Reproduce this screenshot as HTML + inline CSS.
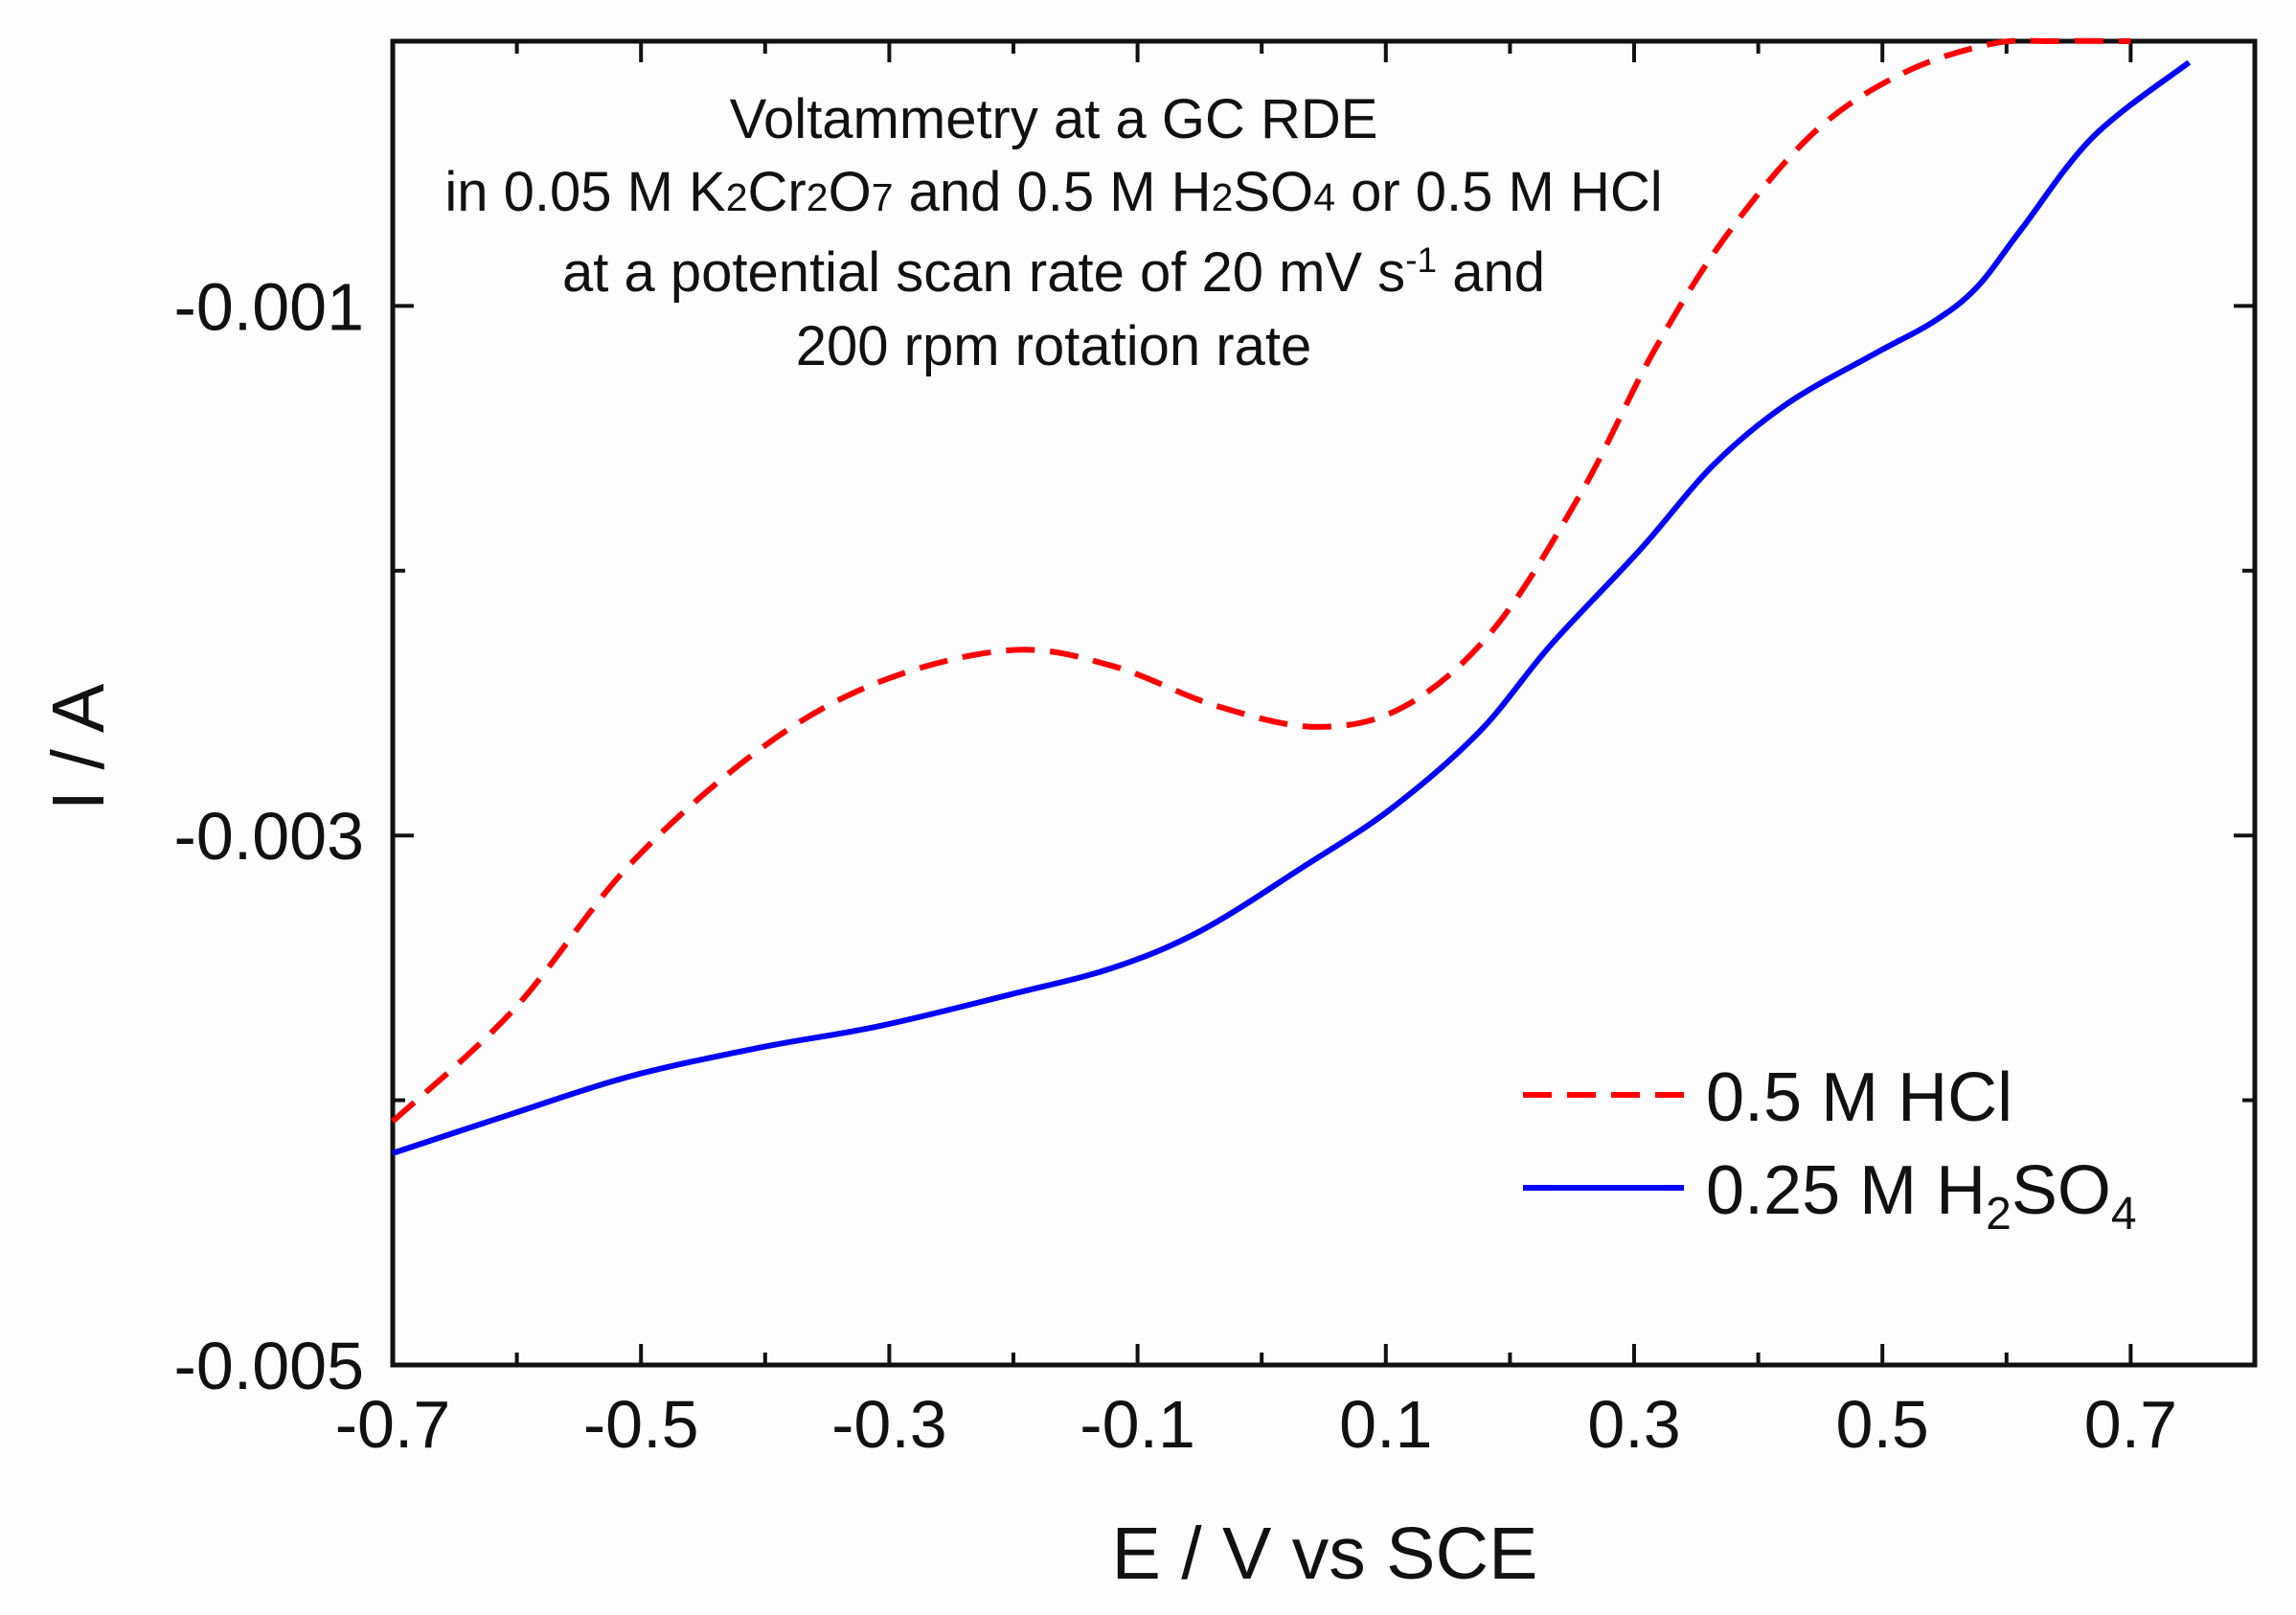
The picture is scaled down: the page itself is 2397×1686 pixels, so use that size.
<!DOCTYPE html>
<html><head><meta charset="utf-8"><style>
html,body{margin:0;padding:0;background:#fdfdfd;}
svg{display:block;font-family:"Liberation Sans",Arial,sans-serif;}
</style></head><body>
<svg id="chart" width="2397" height="1686" viewBox="0 0 2397 1686" xmlns="http://www.w3.org/2000/svg">
<rect x="0" y="0" width="2397" height="1686" fill="#fdfdfd"/>
<g id="axes"></g>
<g id="series"></g>
<g font-size="58" fill="#111" text-anchor="middle">
<text x="1100" y="144">Voltammetry at a GC RDE</text>
<text x="1100" y="220">in 0.05 M K<tspan font-size="41">2</tspan>Cr<tspan font-size="41">2</tspan>O<tspan font-size="41">7</tspan>  and 0.5 M H<tspan font-size="41">2</tspan>SO<tspan font-size="41">4</tspan>  or 0.5 M HCl</text>
<text x="1100" y="304">at a potential scan rate of 20 mV s<tspan font-size="37" dy="-20">-1</tspan><tspan dy="20"> and</tspan></text>
<text x="1100" y="381">200 rpm rotation rate</text>
</g>
<text x="1383" y="1648" font-size="77" text-anchor="middle" fill="#111">E / V vs SCE</text>
<text transform="translate(108,780) rotate(-90)" font-size="77" text-anchor="middle" fill="#111">I / A</text>
<g>
<line x1="1590" y1="1143" x2="1758" y2="1143" stroke="#ff0000" stroke-width="6" stroke-dasharray="30,16"/>
<text x="1781" y="1170" font-size="72" fill="#111">0.5 M HCl</text>
<line x1="1590" y1="1240" x2="1758" y2="1240" stroke="#0000ff" stroke-width="6"/>
<text x="1781" y="1267" font-size="72" fill="#111">0.25 M H<tspan font-size="48" dy="16">2</tspan><tspan dy="-16">SO</tspan><tspan font-size="48" dy="16">4</tspan></text>
</g>
</svg>
<script>
const xTicks = [-0.7,-0.5,-0.3,-0.1,0.1,0.3,0.5,0.7];
const xTickLabels = ["-0.7","-0.5","-0.3","-0.1","0.1","0.3","0.5","0.7"];
const xMinor = [-0.6,-0.4,-0.2,0,0.2,0.4,0.6,0.8];
const yTicks = [-0.001,-0.003,-0.005];
const yTickLabels = ["-0.001","-0.003","-0.005"];
const yMinor = [0,-0.002,-0.004];
const hclE = [-0.7,-0.603,-0.509,-0.403,-0.308,-0.202,-0.12,-0.037,0.045,0.116,0.187,0.258,0.316,0.375,0.446,0.517,0.588,0.64,0.7];
const hclI = [-0.00408,-0.00366,-0.00311,-0.00267,-0.00242,-0.0023,-0.00236,-0.00251,-0.00259,-0.00251,-0.00222,-0.0017,-0.00117,-0.00073,-0.00034,-0.00012,-0.00001,0,0];
const h2so4E = [-0.7,-0.603,-0.509,-0.403,-0.308,-0.202,-0.12,-0.049,0.033,0.104,0.175,0.233,0.305,0.364,0.423,0.494,0.541,0.576,0.612,0.67,0.747];
const h2so4I = [-0.0042,-0.00405,-0.00391,-0.0038,-0.00372,-0.0036,-0.0035,-0.00336,-0.00312,-0.0029,-0.00261,-0.00228,-0.00192,-0.0016,-0.00137,-0.00118,-0.00106,-0.00093,-0.00071,-0.00036,-0.00008];

const L=410,R=2354,T=43,B=1425;
const xMin=-0.7,xMax=0.8,yMin=-0.005,yMax=0;
function sx(v){return L+(v-xMin)/(xMax-xMin)*(R-L);}
function sy(v){return B-(v-yMin)/(yMax-yMin)*(B-T);}
const NS="http://www.w3.org/2000/svg";
const axes=document.getElementById('axes');
const series=document.getElementById('series');
function mk(tag,attrs,parent){const e=document.createElementNS(NS,tag);for(const k in attrs)e.setAttribute(k,attrs[k]);parent.appendChild(e);return e;}

const frame=mk('rect',{x:L,y:T,width:R-L,height:B-T,fill:'none',stroke:'#111','stroke-width':5},axes);



xTicks.forEach((v,i)=>{
  const x=sx(v);
  const t1=mk('line',{x1:x,y1:B,x2:x,y2:B-22,stroke:'#111','stroke-width':4},axes);
  
  
  const t2=mk('line',{x1:x,y1:T,x2:x,y2:T+22,stroke:'#111','stroke-width':4},axes);
  
  
  const lb=mk('text',{x:x,y:B+86,'font-size':70,'text-anchor':'middle',fill:'#111'},axes);
  lb.textContent=xTickLabels[i];
  
  
});
xMinor.forEach(v=>{
  const x=sx(v);
  const t1=mk('line',{x1:x,y1:B,x2:x,y2:B-13,stroke:'#111','stroke-width':4},axes);
  
  
  const t2=mk('line',{x1:x,y1:T,x2:x,y2:T+13,stroke:'#111','stroke-width':4},axes);
  
  
});
yTicks.forEach((v,i)=>{
  const y=sy(v);
  const t1=mk('line',{x1:L,y1:y,x2:L+22,y2:y,stroke:'#111','stroke-width':4},axes);
  
  
  const t2=mk('line',{x1:R,y1:y,x2:R-22,y2:y,stroke:'#111','stroke-width':4},axes);
  
  
  const lb=mk('text',{x:L-30,y:y+25,'font-size':70,'text-anchor':'end',fill:'#111'},axes);
  lb.textContent=yTickLabels[i];
  
  
});
yMinor.forEach(v=>{
  const y=sy(v);
  const t1=mk('line',{x1:L,y1:y,x2:L+13,y2:y,stroke:'#111','stroke-width':4},axes);
  
  
  const t2=mk('line',{x1:R,y1:y,x2:R-13,y2:y,stroke:'#111','stroke-width':4},axes);
  
  
});

function smoothPath(xs,ys){
  const p=xs.map((v,i)=>[sx(v),sy(ys[i])]);
  let d='M'+p[0][0]+','+p[0][1];
  for(let i=0;i<p.length-1;i++){
    const p0=p[i-1]||p[i],p1=p[i],p2=p[i+1],p3=p[i+2]||p[i+1];
    const c1=[p1[0]+(p2[0]-p0[0])/6,p1[1]+(p2[1]-p0[1])/6];
    const c2=[p2[0]-(p3[0]-p1[0])/6,p2[1]-(p3[1]-p1[1])/6];
    d+=' C'+c1[0]+','+c1[1]+' '+c2[0]+','+c2[1]+' '+p2[0]+','+p2[1];
  }
  return d;
}
const hcl=mk('path',{d:smoothPath(hclE,hclI),fill:'none',stroke:'#ff0000','stroke-width':6,'stroke-dasharray':'30,16'},series);


const h2=mk('path',{d:smoothPath(h2so4E,h2so4I),fill:'none',stroke:'#0000ff','stroke-width':6},series);


</script>
</body></html>
